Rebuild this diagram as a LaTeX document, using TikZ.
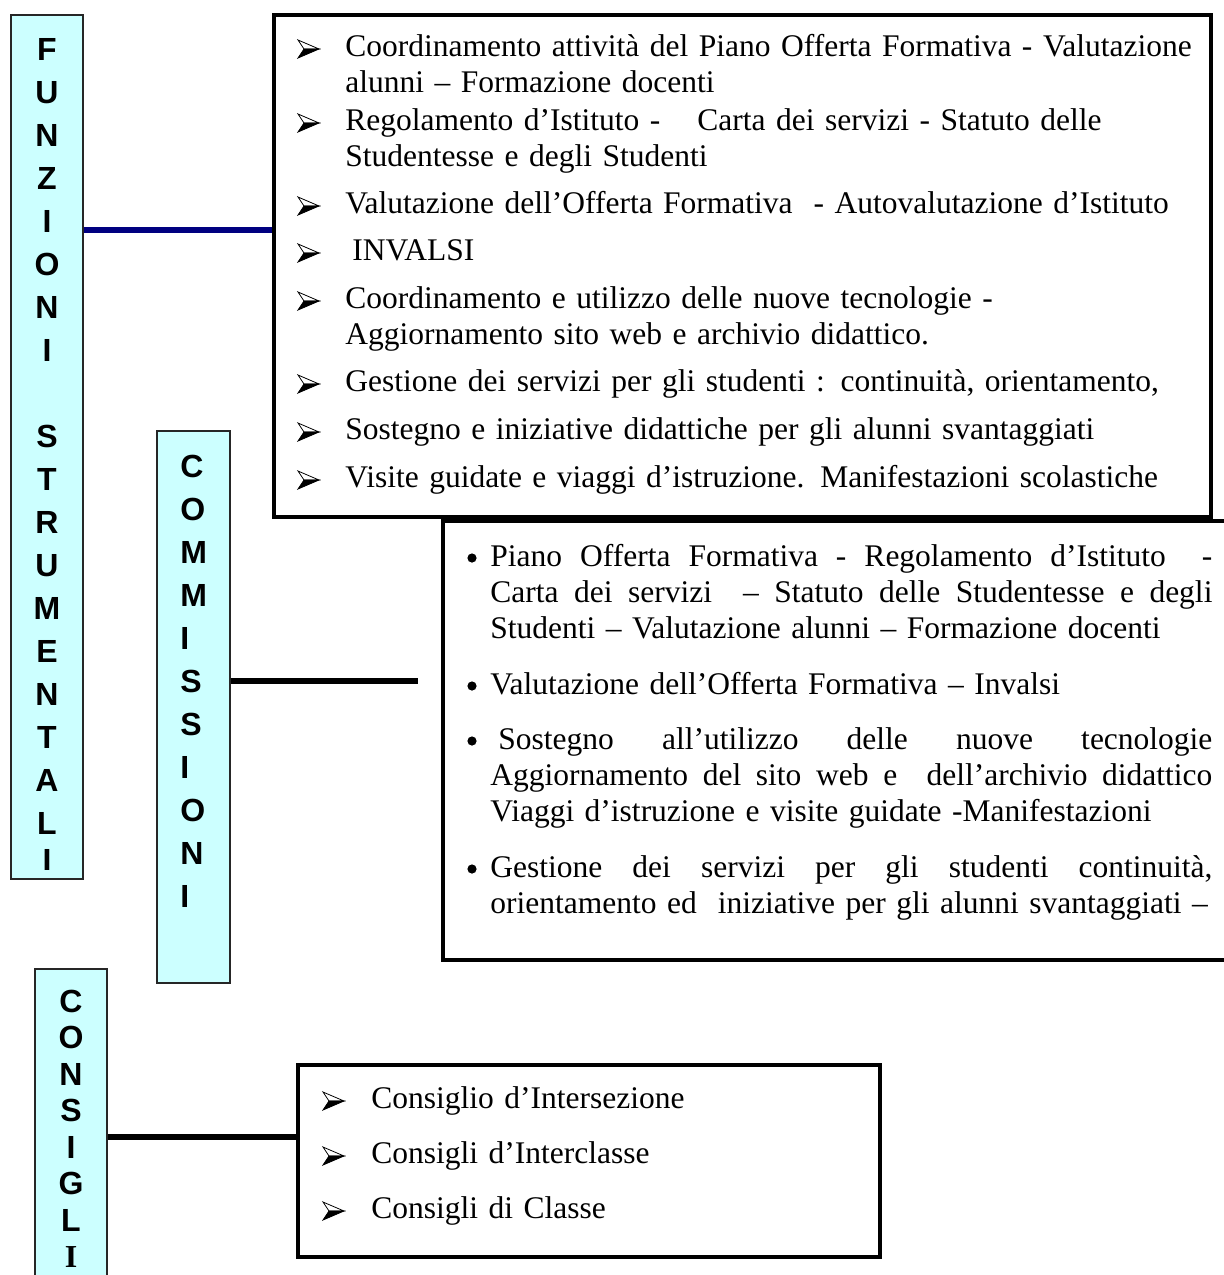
\documentclass[tikz,border=0pt]{standalone}
\usepackage{fontspec}
\setmainfont{Liberation Serif}
\newfontfamily\lsans{Liberation Sans}
\definecolor{cyanfill}{HTML}{CCFFFF}
\definecolor{navyline}{HTML}{000080}
\newcommand\jline[1]{\makebox[361pt][s]{\spaceskip=.3333em plus 1fill\xspaceskip=.3333em plus 1fill\relax #1}}
\begin{document}
\begin{tikzpicture}[x=0.5pt,y=-0.5pt,
  labbox/.style={draw=black!85, line width=0.6pt, fill=cyanfill, inner sep=0pt},
  bigbox/.style={draw=black, line width=2.4pt, fill=white, inner sep=0pt},
  vlet/.style={inner sep=0pt, font=\lsans\bfseries\fontsize{16pt}{21.5pt}\selectfont},
  itm/.style={inner sep=0pt, anchor=base west, align=left, text width=445pt, font=\fontsize{15.75pt}{18.25pt}\selectfont},
  mitm/.style={inner sep=0pt, anchor=base west, align=left, text width=380pt, font=\fontsize{15.75pt}{18pt}\selectfont},
  conn/.style={line width=2.8pt},
  arrbul/.pic={
    \filldraw[line width=0.4pt, fill=white] (0,-16) -- (21,-7) -- (6,-7) -- cycle;
    \filldraw[line width=0.4pt] (6,-7) -- (21,-7) -- (0,2) -- cycle;
  },
]
\useasboundingbox (0,0) rectangle (1224,1275);
\clip (0,0) rectangle (1224,1275);
\fill[white] (0,0) rectangle (1224,1275);

% label boxes
\node[labbox, minimum width=36pt, minimum height=432pt] (fbox) at (47,447) {};
\node[labbox, minimum width=36.5pt, minimum height=276pt] (cbox) at (193.5,707) {};
\node[labbox, minimum width=36pt, minimum height=165.5pt] (gbox) at (71,1134.5) {};

% content boxes
\node[bigbox, minimum width=468.5pt, minimum height=251pt] (tbox) at (742.5,266) {};
\node[bigbox, minimum width=428.5pt, minimum height=219.5pt] (mbox) at (871.5,740.5) {};
\node[bigbox, minimum width=291pt, minimum height=96pt] (bbox) at (589,1161) {};

% connectors
\draw[conn, navyline] (fbox.east |- 0,230) -- (tbox.west |- 0,230);
\coordinate (cend) at (418,681);
\draw[conn] (cbox.east |- cend) -- (cend);
\draw[conn] (gbox.east |- 0,1137) -- (bbox.west |- 0,1137);

% vertical labels
\begin{scope}
\clip (11,15) rectangle (83,869);
\node[vlet, anchor=base, text width=36pt, align=center] (ftext) at (47,60)
  {F\\U\\N\\Z\\I\\O\\N\\I\\\mbox{}\\S\\T\\R\\U\\M\\E\\N\\T\\A\\L\\[-3pt]I};
\end{scope}
\node[vlet, anchor=base west, text width=30pt, align=left] (ctext) at (180,477)
  {C\\O\\M\\M\\I\\S\\S\\I\\O\\N\\I};
\node[vlet, font=\lsans\bfseries\fontsize{16pt}{18.25pt}\selectfont, anchor=base, text width=36pt, align=center] (gtext) at (71,1012)
  {C\\O\\N\\S\\I\\G\\L\\{\rmfamily\bfseries I}};

% top box items
\pic at (298,56) {arrbul};
\node[itm] (t1) at (345,56) {Coordinamento attività del Piano Offerta Formativa - Valutazione\\alunni – Formazione docenti};
\pic at (298,130) {arrbul};
\node[itm] (t2) at (345,130) {Regolamento d’Istituto -\hspace{18.5pt}Carta dei servizi - Statuto delle\\Studentesse e degli Studenti};
\pic at (298,213) {arrbul};
\node[itm] (t3) at (345,213) {Valutazione dell’Offerta Formativa\ \ - Autovalutazione d’Istituto};
\pic at (298,260) {arrbul};
\node[itm] (t4) at (345,260) {\hspace*{3.5pt}INVALSI};
\pic at (298,308) {arrbul};
\node[itm] (t5) at (345,308) {Coordinamento e utilizzo delle nuove tecnologie -\\Aggiornamento sito web e archivio didattico.};
\pic at (298,391) {arrbul};
\node[itm] (t6) at (345,391) {Gestione dei servizi per gli studenti : continuità, orientamento,};
\pic at (298,439) {arrbul};
\node[itm] (t7) at (345,439) {Sostegno e iniziative didattiche per gli alunni svantaggiati};
\pic at (298,487) {arrbul};
\node[itm] (t8) at (345,487) {Visite guidate e viaggi d’istruzione. Manifestazioni scolastiche};

% middle box items
\fill (472,558) circle[radius=2.3pt];
\node[mitm] (m1) at (490,566) {\jline{Piano Offerta Formativa - Regolamento d’Istituto\ \ -}\\\jline{Carta dei servizi\ \ – Statuto delle Studentesse e degli}\\Studenti – Valutazione alunni – Formazione docenti};
\fill (472,686) circle[radius=2.3pt];
\node[mitm] (m2) at (490,694) {Valutazione dell’Offerta Formativa – Invalsi};
\fill (472,741) circle[radius=2.3pt];
\node[mitm] (m3) at (490,749) {\jline{\hspace*{4pt}Sostegno all’utilizzo delle nuove tecnologie}\\\jline{Aggiornamento del sito web e\ \ dell’archivio didattico}\\Viaggi d’istruzione e visite guidate -Manifestazioni};
\fill (472,869) circle[radius=2.3pt];
\node[mitm] (m4) at (490,877) {\jline{Gestione dei servizi per gli studenti continuità,}\\orientamento ed\ \ iniziative per gli alunni svantaggiati –};

% bottom box items
\pic at (323,1108) {arrbul};
\node[itm] (b1) at (371,1108) {Consiglio d’Intersezione};
\pic at (323,1163) {arrbul};
\node[itm] (b2) at (371,1163) {Consigli d’Interclasse};
\pic at (323,1218) {arrbul};
\node[itm] (b3) at (371,1218) {Consigli di Classe};
\end{tikzpicture}
\end{document}
